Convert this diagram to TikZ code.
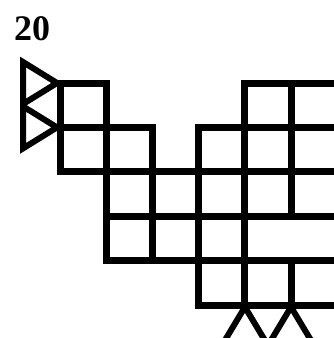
\documentclass[tikz,border=0pt]{standalone}
\usepackage{fontspec}
\setmainfont{Liberation Serif}
\usepackage{tikz}

\begin{document}
\begin{tikzpicture}[
    x=1pt, y=-1pt,
    cell/.style={draw, line width=7pt, line join=miter},
    tri/.style={draw, line width=6pt, line join=miter},
    num/.style={font=\fontsize{36}{36}\selectfont\bfseries, inner sep=0pt},
  ]
  \useasboundingbox (0,0) rectangle (334,338);
  \clip (0,0) rectangle (334,338);
  % puzzle number
  \node[num] (nr) at (32, 29) {20};
  % squares, given as column/row
  \foreach \c/\r in {0/0, 4/0, 5/0, 0/1, 1/1, 3/1, 4/1, 5/1,
                     1/2, 2/2, 3/2, 4/2, 5/2, 1/3, 2/3, 3/3,
                     3/4, 4/4, 5/4}
    \draw[cell] (60.5+46.1*\c, 83+44.4*\r) rectangle ++(46.1, 44.4);
  % triangles on the left side
  \foreach \r in {0, 1}
    \draw[tri] (57, 83+44.4*\r) -- (23, 62+44.4*\r) -- (23, 104+44.4*\r) -- cycle;
  % triangles under the bottom row
  \foreach \c in {4, 5}
    \draw[tri] (60.5+46.1*\c, 307) -- (39.5+46.1*\c, 342) -- (81.5+46.1*\c, 342) -- cycle;
\end{tikzpicture}
\end{document}
